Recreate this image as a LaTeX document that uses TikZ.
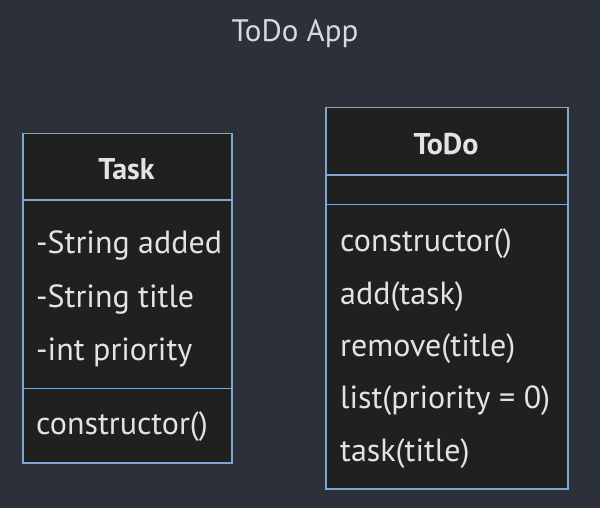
\documentclass[tikz,border=0pt]{standalone}
\usepackage{fontspec}
\setmainfont{PT Sans}
\usepackage{xcolor}
\definecolor{bgdark}{HTML}{2B303B}
\definecolor{boxfill}{HTML}{1F2020}
\definecolor{boxline}{HTML}{81A6CD}
\definecolor{txt}{HTML}{E3E3E3}
\tikzset{
  classbox/.style={draw=boxline, fill=boxfill, line width=1.5pt, anchor=north west, inner sep=0pt},
  divider/.style={draw=boxline, line width=1.5pt},
  member/.style={anchor=west, text=txt, font=\fontsize{32}{35}\selectfont, inner sep=0pt},
  classname/.style={text=txt, font=\fontsize{30}{33}\selectfont\bfseries, inner sep=0pt}
}

\begin{document}
\begin{tikzpicture}[x=1pt,y=-1pt]
  \useasboundingbox[fill=bgdark] (0,0) rectangle (600,508);
  \node[text=txt!90!gray, font=\fontsize{31}{34}\selectfont, inner sep=0pt] (title) at (295,34) {ToDo App};

  % Task
  \node[classbox, minimum width=209pt, minimum height=329pt] (task) at (22,133) {};
  \draw[divider] (22,200) -- (231,200);
  \draw[divider] (22,388.5) -- (231,388.5);
  \node[classname] (taskname) at (126.5,169) {Task};
  \node[member] (added) at (36,245) {-String added};
  \node[member] (tasktitle) at (36,299) {-String title};
  \node[member] (prio) at (36,352) {-int priority};
  \node[member] (taskctor) at (36,427) {constructor()};

  % ToDo
  \node[classbox, minimum width=242pt, minimum height=381pt] (todo) at (325,107) {};
  \draw[divider] (325,175) -- (567,175);
  \draw[divider] (325,204.5) -- (567,204.5);
  \node[classname] (todoname) at (446,144) {ToDo};
  \node[member] (todoctor) at (340,244) {constructor()};
  \node[member] (add) at (340,297) {add(task)};
  \node[member] (remove) at (340,349) {remove(title)};
  \node[member] (list) at (340,401) {list(priority = 0)};
  \node[member] (get) at (340,454) {task(title)};
\end{tikzpicture}
\end{document}
